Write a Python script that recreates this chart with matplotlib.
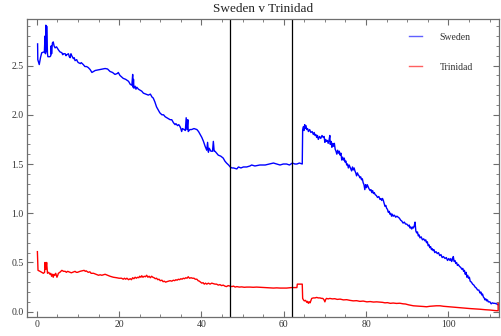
import matplotlib
matplotlib.use("Agg")
import matplotlib.pyplot as plt
from matplotlib.lines import Line2D
from matplotlib.ticker import MultipleLocator, FuncFormatter

# Sweden price path, (time, value) pairs, split by match phase
sweden_first_half = [
    (0.2, 2.72), (0.25, 2.56), (0.6, 2.51), (0.9, 2.58), (1.2, 2.63), (1.85, 2.64), (2.0, 2.80),
    (2.1, 2.62), (2.2, 2.91), (2.3, 2.64), (2.4, 2.90), (2.6, 2.62), (2.7, 2.59), (3.2, 2.59),
    (3.4, 2.60), (3.5, 2.70), (3.6, 2.62), (3.8, 2.73), (4.0, 2.74), (4.2, 2.70), (4.45, 2.68),
    (4.8, 2.69), (5.25, 2.66), (5.6, 2.64), (6.1, 2.63), (6.3, 2.61), (6.5, 2.62), (6.9, 2.62),
    (7.1, 2.60), (7.3, 2.61), (7.7, 2.62), (7.9, 2.59), (8.1, 2.58), (8.3, 2.62), (8.5, 2.60),
    (8.9, 2.57), (9.1, 2.58), (9.3, 2.55), (9.7, 2.56), (9.9, 2.54), (10.1, 2.53), (10.6, 2.52),
    (10.8, 2.53), (11.3, 2.51), (11.7, 2.49), (12.1, 2.49), (12.5, 2.48), (12.95, 2.46),
    (13.4, 2.43), (13.8, 2.44), (14.2, 2.45), (15.4, 2.46), (16.6, 2.47), (17.2, 2.465),
    (17.8, 2.44), (18.4, 2.43), (19.0, 2.41), (19.6, 2.42), (19.8, 2.43), (20.2, 2.40),
    (21.0, 2.37), (21.6, 2.36), (22.3, 2.34), (22.7, 2.31), (23.1, 2.30), (23.3, 2.41),
    (23.4, 2.28), (23.5, 2.36), (23.6, 2.27), (23.9, 2.29), (24.1, 2.26), (24.3, 2.28),
    (24.7, 2.26), (25.1, 2.25), (25.5, 2.24), (25.9, 2.22), (26.5, 2.21), (27.1, 2.20),
    (27.6, 2.21), (28.0, 2.18), (28.3, 2.17), (28.7, 2.13), (29.1, 2.08), (29.5, 2.05),
    (29.9, 2.02), (30.4, 2.00), (30.8, 2.00), (31.2, 1.98), (31.6, 1.97), (32.4, 1.95),
    (32.8, 1.95), (33.2, 1.92), (33.6, 1.90), (33.8, 1.91), (34.2, 1.89), (34.5, 1.90),
    (34.8, 1.88), (35.0, 1.86), (35.2, 1.83), (35.4, 1.86), (35.8, 1.85), (36.1, 1.84),
    (36.3, 1.97), (36.5, 1.85), (36.7, 1.95), (36.8, 1.83), (37.2, 1.85), (37.6, 1.85),
    (38.2, 1.86), (38.9, 1.85), (39.3, 1.83), (39.7, 1.80), (40.1, 1.77), (40.5, 1.73),
    (40.9, 1.68), (41.3, 1.64), (41.5, 1.72), (41.7, 1.62), (41.9, 1.66), (42.3, 1.63),
    (42.7, 1.63), (42.9, 1.73), (43.1, 1.63), (43.3, 1.63), (43.7, 1.61), (44.1, 1.59),
    (44.7, 1.58), (45.3, 1.56), (45.7, 1.53), (46.1, 1.51), (46.6, 1.49), (47.0, 1.47),
]
sweden_break = [
    (47.4, 1.46), (47.8, 1.46), (48.6, 1.45), (49.0, 1.47), (49.6, 1.46), (50.2, 1.47),
    (51.0, 1.47), (51.8, 1.48), (52.2, 1.49), (53.0, 1.48), (54.2, 1.49), (55.5, 1.49),
    (56.5, 1.50), (57.5, 1.51), (58.3, 1.50), (59.1, 1.49), (59.9, 1.50), (60.7, 1.50),
    (61.4, 1.49), (62.1, 1.51),
]
sweden_second_half = [
    (62.7, 1.50), (63.2, 1.50), (63.8, 1.51), (64.5, 1.50),
    (64.6, 1.85), (64.8, 1.88), (64.9, 1.84), (65.1, 1.90), (65.2, 1.86), (65.4, 1.89),
    (65.6, 1.85), (65.8, 1.86), (66.0, 1.83), (66.3, 1.85), (66.6, 1.82), (66.9, 1.83),
    (67.2, 1.80), (67.4, 1.82), (67.6, 1.79), (67.8, 1.80), (68.0, 1.77), (68.2, 1.79),
    (68.4, 1.75), (68.7, 1.78), (69.0, 1.76), (69.3, 1.79), (69.6, 1.77), (69.8, 1.78),
    (70.0, 1.72), (70.2, 1.75), (70.4, 1.73), (70.6, 1.74), (70.8, 1.71), (71.0, 1.74),
    (71.2, 1.79), (71.3, 1.70), (71.5, 1.73), (71.7, 1.67), (71.9, 1.71), (72.1, 1.68),
    (72.3, 1.71), (72.5, 1.65), (72.7, 1.63), (72.9, 1.60), (73.1, 1.64), (73.3, 1.61),
    (73.5, 1.63), (73.7, 1.59), (73.9, 1.61), (74.1, 1.54), (74.3, 1.57), (74.5, 1.54),
    (74.7, 1.56), (74.9, 1.52), (75.1, 1.53), (75.3, 1.49), (75.5, 1.50), (75.7, 1.46),
    (75.9, 1.49), (76.1, 1.47), (76.3, 1.45), (76.5, 1.43), (76.7, 1.47), (76.9, 1.44),
    (77.1, 1.46), (77.3, 1.43), (77.5, 1.41), (77.7, 1.38), (77.9, 1.41), (78.1, 1.39),
    (78.3, 1.38), (78.5, 1.36), (78.7, 1.37), (78.9, 1.34), (79.1, 1.35), (79.3, 1.31),
    (79.5, 1.29), (79.7, 1.24), (79.9, 1.29), (80.1, 1.26), (80.3, 1.29), (80.5, 1.27),
    (80.7, 1.25), (81.0, 1.23), (81.2, 1.24), (81.4, 1.21), (81.6, 1.23), (81.8, 1.20),
    (82.0, 1.21), (82.2, 1.19), (82.5, 1.18), (82.8, 1.16), (83.1, 1.17), (83.4, 1.14),
    (83.6, 1.15), (83.8, 1.13), (84.0, 1.15), (84.2, 1.13), (84.4, 1.10), (84.6, 1.07),
    (84.8, 1.08), (85.0, 1.05), (85.2, 1.04), (85.4, 1.01), (85.6, 1.02), (85.8, 0.99),
    (86.0, 1.00), (86.2, 0.97), (86.4, 0.99), (86.6, 0.97), (86.9, 0.98), (87.2, 0.96),
    (87.5, 0.97), (87.8, 0.96), (88.1, 0.95), (88.4, 0.93), (88.7, 0.92), (89.0, 0.90),
    (89.3, 0.91), (89.6, 0.89), (89.9, 0.89), (90.3, 0.87), (90.5, 0.88), (90.7, 0.85),
    (90.9, 0.86), (91.1, 0.84), (91.3, 0.86), (91.5, 0.85), (91.7, 0.87), (91.9, 0.91),
    (92.1, 0.82), (92.3, 0.80), (92.5, 0.81), (92.7, 0.77), (92.9, 0.78), (93.1, 0.75),
    (93.4, 0.76), (93.7, 0.73), (94.0, 0.74), (94.3, 0.72), (94.5, 0.73), (94.7, 0.70),
    (94.9, 0.71), (95.1, 0.67), (95.3, 0.68), (95.5, 0.65), (95.7, 0.66), (95.9, 0.63),
    (96.1, 0.64), (96.3, 0.62), (96.5, 0.63), (96.7, 0.60), (97.0, 0.61), (97.3, 0.59),
    (97.6, 0.60), (97.9, 0.57), (98.2, 0.58), (98.5, 0.55), (98.8, 0.56), (99.2, 0.54),
    (99.5, 0.55), (99.8, 0.52), (100.1, 0.54), (100.4, 0.52), (100.6, 0.54), (100.8, 0.51),
    (101.0, 0.53), (101.2, 0.56), (101.4, 0.51), (101.6, 0.52), (101.8, 0.49), (102.0, 0.50),
    (102.2, 0.47), (102.4, 0.48), (102.7, 0.46), (103.0, 0.45), (103.3, 0.43), (103.5, 0.44),
    (103.7, 0.41), (103.9, 0.42), (104.1, 0.38), (104.3, 0.40), (104.5, 0.35), (104.7, 0.37),
    (104.9, 0.34), (105.1, 0.35), (105.3, 0.31), (105.6, 0.30), (105.9, 0.28), (106.2, 0.27),
    (106.5, 0.25), (106.8, 0.24), (107.1, 0.22), (107.4, 0.22), (107.7, 0.19), (107.9, 0.20),
    (108.1, 0.17), (108.3, 0.18), (108.5, 0.15), (108.7, 0.14), (108.9, 0.12), (109.1, 0.13),
    (109.3, 0.11), (109.5, 0.12), (109.7, 0.10), (110.1, 0.10), (110.4, 0.08), (110.7, 0.09),
    (111.0, 0.085), (111.3, 0.085), (111.7, 0.08), (112.1, 0.07),
]

# Trinidad price path, (time, value) pairs
trinidad_first_half = [
    (0.15, 0.61), (0.3, 0.42), (0.8, 0.41), (1.2, 0.40), (1.6, 0.39), (1.9, 0.40), (2.0, 0.50),
    (2.2, 0.43), (2.4, 0.50), (2.6, 0.39), (2.9, 0.40), (3.2, 0.38), (3.4, 0.39), (3.6, 0.36),
    (3.8, 0.38), (4.0, 0.35), (4.2, 0.38), (4.4, 0.37), (4.6, 0.39), (4.9, 0.35), (5.1, 0.37),
    (5.25, 0.39), (5.6, 0.40), (6.1, 0.42), (6.5, 0.41), (6.9, 0.41), (7.2, 0.40), (7.5, 0.41),
    (8.1, 0.40), (8.4, 0.395), (8.7, 0.40), (9.3, 0.41), (9.6, 0.40), (9.9, 0.40), (10.5, 0.41),
    (11.0, 0.415), (11.5, 0.42), (11.8, 0.41), (12.0, 0.415), (12.5, 0.40), (12.9, 0.405),
    (13.2, 0.39), (13.8, 0.39), (14.4, 0.38), (15.0, 0.37), (15.4, 0.375), (15.8, 0.37),
    (16.6, 0.38), (17.2, 0.37), (17.8, 0.36), (18.2, 0.355), (18.6, 0.35), (19.4, 0.345),
    (20.0, 0.34), (20.6, 0.34), (21.0, 0.33), (21.3, 0.34), (21.6, 0.33), (21.9, 0.34),
    (22.3, 0.325), (22.7, 0.335), (23.0, 0.325), (23.3, 0.345), (23.6, 0.335), (23.9, 0.35),
    (24.2, 0.34), (24.5, 0.35), (24.8, 0.345), (25.0, 0.36), (25.3, 0.35), (25.5, 0.365),
    (25.8, 0.35), (26.1, 0.36), (26.4, 0.355), (26.7, 0.37), (27.0, 0.35), (27.3, 0.36),
    (27.6, 0.345), (27.9, 0.36), (28.2, 0.35), (28.5, 0.345), (28.8, 0.335), (29.1, 0.34),
    (29.4, 0.325), (29.7, 0.33), (30.0, 0.315), (30.4, 0.32), (30.7, 0.305), (31.0, 0.31),
    (31.3, 0.30), (31.6, 0.305), (32.0, 0.31), (32.4, 0.315), (32.8, 0.31), (33.2, 0.32),
    (33.5, 0.315), (33.8, 0.325), (34.1, 0.32), (34.4, 0.33), (34.7, 0.325), (35.0, 0.335),
    (35.3, 0.33), (35.6, 0.34), (35.9, 0.335), (36.2, 0.345), (36.5, 0.34), (36.8, 0.355),
    (37.1, 0.34), (37.5, 0.345), (37.8, 0.34), (38.2, 0.34), (38.5, 0.33), (38.9, 0.33),
    (39.2, 0.315), (39.5, 0.31), (39.8, 0.30), (40.1, 0.29), (40.4, 0.295), (40.7, 0.28),
    (41.0, 0.29), (41.3, 0.28), (41.7, 0.29), (42.1, 0.28), (42.5, 0.29), (42.9, 0.285),
    (43.3, 0.28), (43.7, 0.28), (44.1, 0.27), (44.5, 0.275), (44.9, 0.265), (45.3, 0.27),
    (45.7, 0.26), (46.1, 0.255), (46.5, 0.265), (47.0, 0.26),
]
trinidad_break = [
    (47.4, 0.255), (47.8, 0.26), (48.2, 0.25), (48.6, 0.255), (49.2, 0.25), (49.8, 0.252),
    (50.4, 0.248), (51.0, 0.25), (51.8, 0.25), (52.6, 0.248), (53.4, 0.25), (54.2, 0.248),
    (55.0, 0.245), (55.8, 0.245), (56.6, 0.243), (57.5, 0.24), (58.3, 0.242), (59.1, 0.24),
    (59.9, 0.24), (60.7, 0.24), (61.3, 0.242), (61.9, 0.245),
]
trinidad_second_half = [
    (62.6, 0.245), (63.2, 0.245), (63.3, 0.28), (64.5, 0.28), (64.6, 0.135), (64.8, 0.12),
    (65.0, 0.11), (65.3, 0.115), (65.6, 0.095), (65.8, 0.105), (66.0, 0.085), (66.2, 0.10),
    (66.4, 0.09), (66.8, 0.135), (67.2, 0.14), (67.6, 0.14), (68.0, 0.145), (68.4, 0.14),
    (68.8, 0.14), (69.2, 0.135), (69.5, 0.135), (69.8, 0.12), (70.0, 0.10), (70.2, 0.125),
    (70.4, 0.135), (70.8, 0.13), (71.2, 0.135), (71.8, 0.13), (72.4, 0.132), (73.0, 0.125),
    (73.7, 0.128), (74.5, 0.12), (75.3, 0.122), (76.1, 0.115), (76.9, 0.11), (77.7, 0.112),
    (78.5, 0.105), (79.3, 0.108), (80.2, 0.10), (81.0, 0.103), (81.8, 0.098), (82.6, 0.10),
    (83.4, 0.097), (84.0, 0.095), (84.6, 0.09), (85.2, 0.092), (85.9, 0.085), (86.6, 0.088),
    (87.4, 0.084), (88.2, 0.086), (89.0, 0.08), (89.6, 0.078), (90.3, 0.07), (90.9, 0.065),
    (91.5, 0.06), (92.3, 0.058), (93.1, 0.055), (93.9, 0.053), (94.7, 0.05), (95.5, 0.055),
    (96.3, 0.057), (97.1, 0.06), (98.0, 0.06), (98.8, 0.055), (99.6, 0.052), (100.4, 0.048),
    (101.2, 0.045), (102.0, 0.043), (102.8, 0.04), (103.6, 0.037), (104.4, 0.035),
    (105.2, 0.032), (106.0, 0.03), (106.8, 0.028), (107.7, 0.025), (108.4, 0.022),
    (109.0, 0.02), (110.1, 0.017), (110.9, 0.013), (111.7, 0.01), (112.1, 0.01), (112.1, 0.085),
]

# Period markers (half time)
markers = [47.0, 62.1]

series_names = ["Sweden", "Trinidad"]
series_colors = ["#0000ff", "#ff0000"]
legend_colors = ["#6060ff", "#ff6060"]

sweden = sweden_first_half + sweden_break + sweden_second_half
trinidad = trinidad_first_half + trinidad_break + trinidad_second_half

fig = plt.figure(figsize=(5.02, 3.36), dpi=100)
ax = fig.add_axes([0.0544, 0.0565, 0.9396, 0.8861])

for path, col in zip([sweden, trinidad], series_colors):
    t, v = zip(*path)
    ax.plot(t, v, color=col, lw=1.0)
for m in markers:
    ax.axvline(m, color="black", lw=0.9)

ax.set_xlim(-2.3, 112.3)
ax.set_ylim(-0.054, 2.97)

frame_col = "#6e6e6e"
for s in ax.spines.values():
    s.set_color(frame_col)
    s.set_linewidth(0.9)

ax.xaxis.set_major_locator(MultipleLocator(20))
ax.xaxis.set_minor_locator(MultipleLocator(5))
ax.yaxis.set_major_locator(MultipleLocator(0.5))
ax.yaxis.set_minor_locator(MultipleLocator(0.1))
ax.tick_params(which="both", direction="in", top=True, right=True, color=frame_col,
               labelcolor="#333333", labelsize=7, pad=2.5)
ax.tick_params(which="major", length=4, width=0.8)
ax.tick_params(which="minor", length=2, width=0.6)
ax.xaxis.set_major_formatter(FuncFormatter(lambda v, p: f"{int(v)}"))
ax.yaxis.set_major_formatter(FuncFormatter(lambda v, p: f"{v:.1f}"))
for lab in ax.get_xticklabels() + ax.get_yticklabels():
    lab.set_fontfamily("Liberation Serif")

ax.set_title("Sweden v Trinidad", fontfamily="Liberation Serif", fontsize=9.5, pad=5,
             color="#222222")

handles = [Line2D([], [], color=c, lw=1.0) for c in legend_colors]
leg = ax.legend(handles, series_names, loc="upper left", bbox_to_anchor=(0.79, 0.985),
                frameon=False, handlelength=1.4, handletextpad=1.8, labelspacing=2.2,
                prop={"family": "Liberation Serif", "size": 7})
for t in leg.get_texts():
    t.set_color("#333333")

fig.savefig("out.png", dpi=100)
